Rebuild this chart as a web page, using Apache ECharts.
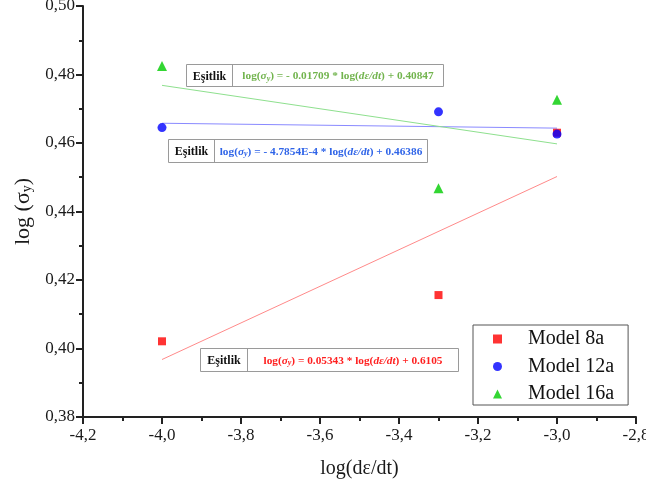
<!DOCTYPE html>
<html>
<head>
<meta charset="utf-8">
<title>log(sigma_y) - log(de/dt)</title>
<script src="https://cdn.jsdelivr.net/npm/echarts@6/dist/echarts.min.js"></script>
<style>
  html, body { margin: 0; padding: 0; background: #fff; }
  #chart { width: 646px; height: 488px; }
</style>
</head>
<body>
<div id="chart"></div>
<script>
  // data
  var strainRate = [-4.0, -3.3, -3.0];
  var model8a = [0.4021, 0.4156, 0.4630];
  var model12a = [0.4645, 0.4691, 0.4626];
  var model16a = [0.4825, 0.4468, 0.4726];

  // fit lines (end points at x = -4 and x = -3, from the printed equations)
  var fitX = [-4.0, -3.0];
  var fit8a = [0.39678, 0.45021];
  var fit12a = [0.46577, 0.46434];
  var fit16a = [0.47683, 0.45974];

  var xTicks = { min: -4.2, max: -2.8, step: 0.2 };
  var yTicks = { min: 0.38, max: 0.50, step: 0.02 };

  var serif = 'Liberation Serif';

  function pairs(xs, ys) {
    return xs.map(function (x, i) { return [x, ys[i]]; });
  }

  // equation box: "Eşitlik" cell + coloured equation cell
  function eqBox(left, top, w, h, div, color, coef, icpt) {
    var fs = 11.3;
    var sty = { fontFamily: serif, fontWeight: 'bold', fontSize: fs, fill: color };
    return {
      type: 'group',
      left: left,
      top: top,
      children: [
        { type: 'rect', shape: { x: 0, y: 0, width: w, height: h },
          style: { fill: '#fff', stroke: '#9a9a9a', lineWidth: 1 } },
        { type: 'line', shape: { x1: div, y1: 0, x2: div, y2: h },
          style: { stroke: '#9a9a9a', lineWidth: 1 } },
        { type: 'text', x: div / 2, y: h / 2 + 1,
          style: { text: 'Eşitlik', fontFamily: serif, fontWeight: 'bold', fontSize: 12,
            fill: '#111', align: 'center', verticalAlign: 'middle',
            textAlign: 'center', textVerticalAlign: 'middle' } },
        { type: 'text', x: (div + w) / 2, y: h / 2 + 1,
          style: {
            text: '{n|log(}{i|σ}{s|y}{n|) = ' + coef + ' * log(}{i|dε/dt}{n|) + ' + icpt + '}',
            align: 'center', verticalAlign: 'middle',
            textAlign: 'center', textVerticalAlign: 'middle',
            fill: color,
            rich: {
              n: sty,
              i: { fontFamily: serif, fontWeight: 'bold', fontStyle: 'italic', fontSize: fs, fill: color },
              s: { fontFamily: serif, fontWeight: 'bold', fontStyle: 'italic', fontSize: 8, fill: color, padding: [4, 0, 0, 0] }
            }
          } }
      ]
    };
  }

  var chart = echarts.init(document.getElementById('chart'));

  var axisLabelStyle = { fontFamily: serif, fontSize: 17, color: '#1a1a1a' };

  var option = {
    animation: false,
    backgroundColor: '#fff',
    grid: { left: 83, right: 10, top: 6, bottom: 71, outerBoundsMode: 'none' },
    xAxis: {
      type: 'value',
      min: xTicks.min, max: xTicks.max, interval: xTicks.step,
      name: 'log(dε/dt)',
      nameLocation: 'middle',
      nameGap: 42,
      nameTextStyle: { fontFamily: serif, fontSize: 20, color: '#1a1a1a' },
      axisLine: { show: true, onZero: false, lineStyle: { color: '#222', width: 2 } },
      axisTick: { show: true, length: 7, lineStyle: { color: '#222', width: 2 } },
      minorTick: { show: true, splitNumber: 2, length: 4, lineStyle: { color: '#222', width: 2 } },
      splitLine: { show: false },
      axisLabel: Object.assign({ margin: 10, formatter: function (v) { return v.toFixed(1).replace('.', ','); } }, axisLabelStyle)
    },
    yAxis: {
      type: 'value',
      min: yTicks.min, max: yTicks.max, interval: yTicks.step,
      name: '{n|log (}{g|σ}{s|y}{n|)}',
      nameLocation: 'middle',
      nameRotate: 90,
      nameGap: 48,
      nameTextStyle: {
        rich: {
          n: { fontFamily: serif, fontSize: 22, color: '#1a1a1a' },
          g: { fontFamily: serif, fontSize: 22, color: '#1a1a1a' },
          s: { fontFamily: serif, fontSize: 14, color: '#1a1a1a', padding: [9, 0, 0, 0] }
        }
      },
      axisLine: { show: true, onZero: false, lineStyle: { color: '#222', width: 2 } },
      axisTick: { show: true, length: 7, lineStyle: { color: '#222', width: 2 } },
      minorTick: { show: true, splitNumber: 2, length: 4, lineStyle: { color: '#222', width: 2 } },
      splitLine: { show: false },
      axisLabel: Object.assign({ margin: 8, formatter: function (v) { return v.toFixed(2).replace('.', ','); } }, axisLabelStyle)
    },
    legend: {
      data: ['Model 8a', 'Model 12a', 'Model 16a'],
      orient: 'vertical',
      left: 473,
      top: 325,
      padding: [4, 14, 1, 20],
      itemGap: 7.5,
      itemWidth: 9,
      itemHeight: 9,
      borderColor: '#555',
      borderWidth: 1,
      textStyle: { fontFamily: serif, fontSize: 20, color: '#111', padding: [0, 0, 0, 21] }
    },
    graphic: [
      eqBox(186, 62, 257, 22, 46, '#72b44e', '- 0.01709', '0.40847'),
      eqBox(168, 137, 259, 23, 46, '#2f64e8', '- 4.7854E-4', '0.46386'),
      eqBox(200, 346, 258, 23, 47, '#ff2020', '0.05343', '0.6105')
    ],
    series: [
      { name: 'fit 8a', type: 'line', data: pairs(fitX, fit8a), symbol: 'none', z: 1,
        lineStyle: { color: '#ff8a8a', width: 1 } },
      { name: 'fit 12a', type: 'line', data: pairs(fitX, fit12a), symbol: 'none', z: 1,
        lineStyle: { color: '#8a8aff', width: 1 } },
      { name: 'fit 16a', type: 'line', data: pairs(fitX, fit16a), symbol: 'none', z: 1,
        lineStyle: { color: '#8ee08e', width: 1 } },
      { name: 'Model 8a', type: 'scatter', data: pairs(strainRate, model8a), symbol: 'rect', symbolSize: 8,
        itemStyle: { color: '#ff0000' }, z: 3 },
      { name: 'Model 12a', type: 'scatter', data: pairs(strainRate, model12a), symbol: 'circle', symbolSize: 9,
        itemStyle: { color: '#0000ff' }, z: 4 },
      { name: 'Model 16a', type: 'scatter', data: pairs(strainRate, model16a), symbol: 'triangle', symbolSize: 10,
        itemStyle: { color: '#00cc00' }, z: 5 }
    ]
  };

  chart.setOption(option);
</script>
</body>
</html>
